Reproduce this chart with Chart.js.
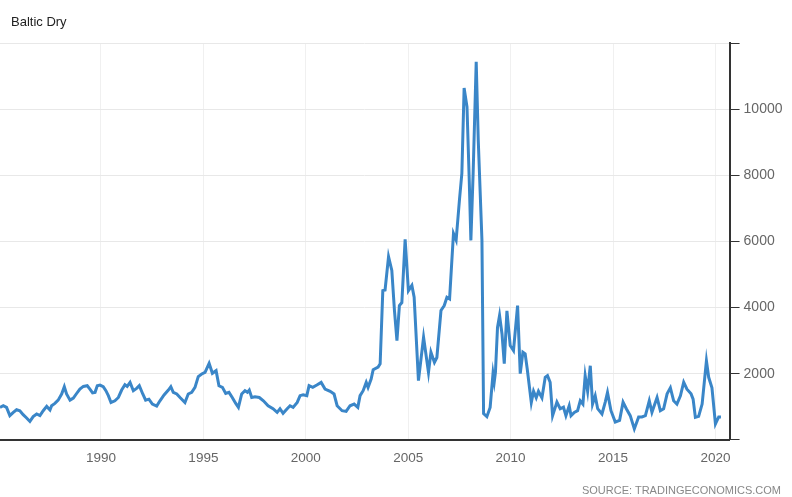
<!DOCTYPE html>
<html>
<head>
<meta charset="utf-8">
<script src="https://cdn.jsdelivr.net/npm/chart.js@4.4.1/dist/chart.umd.min.js"></script>
<style>
  html, body { margin: 0; padding: 0; background: #fff; }
  #wrap { position: relative; width: 792px; height: 497px; }
  #title { position: absolute; left: 11px; top: 15px; font: 13px "Liberation Sans", Arial, sans-serif; color: #222; line-height: 13px; }
  #source { position: absolute; right: 11px; top: 485px; font: 11px "Liberation Sans", Arial, sans-serif; color: #888; line-height: 11px; }
</style>
</head>
<body>
<div id="wrap">
  <canvas id="myChartBaltic" width="792" height="497"></canvas>
  <div id="title">Baltic Dry</div>
  <div id="source">SOURCE: TRADINGECONOMICS.COM</div>
</div>
<script>
// fechas como año decimal, valores del indice
const years = [
  1985.07, 1985.23, 1985.39, 1985.55, 1985.72, 1985.88, 1986.04, 1986.20, 1986.37, 1986.53,
  1986.69, 1986.86, 1987.02, 1987.18, 1987.35, 1987.51, 1987.59, 1987.75, 1987.91, 1988.08,
  1988.21, 1988.32, 1988.49, 1988.65, 1988.81, 1988.97, 1989.14, 1989.33, 1989.46, 1989.59,
  1989.71, 1989.82, 1989.95, 1990.11, 1990.24, 1990.36, 1990.49, 1990.68, 1990.85, 1991.01,
  1991.17, 1991.28, 1991.42, 1991.58, 1991.74, 1991.87, 1992.04, 1992.18, 1992.34, 1992.51,
  1992.72, 1992.88, 1993.08, 1993.29, 1993.41, 1993.53, 1993.70, 1993.86, 1994.10, 1994.26,
  1994.43, 1994.59, 1994.75, 1994.92, 1995.08, 1995.28, 1995.44, 1995.62, 1995.76, 1995.93,
  1996.09, 1996.25, 1996.41, 1996.58, 1996.71, 1996.87, 1997.03, 1997.15, 1997.24, 1997.36,
  1997.52, 1997.73, 1997.93, 1998.16, 1998.40, 1998.60, 1998.74, 1998.89, 1999.09, 1999.23,
  1999.38, 1999.58, 1999.72, 1999.87, 2000.05, 2000.16, 2000.34, 2000.54, 2000.75, 2000.94,
  2001.19, 2001.38, 2001.53, 2001.77, 2001.97, 2002.16, 2002.36, 2002.54, 2002.65, 2002.80,
  2002.95, 2003.04, 2003.19, 2003.29, 2003.53, 2003.63, 2003.76, 2003.87, 2004.04, 2004.20,
  2004.33, 2004.45, 2004.57, 2004.69, 2004.85, 2005.01, 2005.18, 2005.29, 2005.50, 2005.75,
  2005.99, 2006.11, 2006.28, 2006.40, 2006.60, 2006.76, 2006.89, 2007.02, 2007.21, 2007.34,
  2007.50, 2007.62, 2007.73, 2007.87, 2007.98, 2008.06, 2008.17, 2008.32, 2008.42, 2008.60,
  2008.68, 2008.84, 2009.00, 2009.14, 2009.20, 2009.26, 2009.36, 2009.46, 2009.58, 2009.69,
  2009.82, 2009.98, 2010.14, 2010.34, 2010.47, 2010.60, 2010.71, 2010.81, 2011.01, 2011.12,
  2011.25, 2011.36, 2011.53, 2011.69, 2011.80, 2011.93, 2012.05, 2012.18, 2012.26, 2012.42,
  2012.58, 2012.70, 2012.86, 2012.95, 2013.11, 2013.27, 2013.40, 2013.53, 2013.64, 2013.76,
  2013.89, 2014.00, 2014.13, 2014.25, 2014.46, 2014.62, 2014.73, 2014.90, 2015.11, 2015.32,
  2015.49, 2015.65, 2015.84, 2016.04, 2016.25, 2016.41, 2016.58, 2016.77, 2016.90, 2017.15,
  2017.31, 2017.47, 2017.64, 2017.80, 2017.96, 2018.12, 2018.29, 2018.45, 2018.61, 2018.81,
  2018.91, 2019.02, 2019.18, 2019.35, 2019.56, 2019.67, 2019.83, 2020.00, 2020.16, 2020.27
]
const balticDry = [
  980, 1030, 980, 730, 830, 910, 880, 760, 660, 555,
  700, 780, 730, 880, 1010, 900, 1030, 1100, 1200, 1385,
  1605, 1385, 1200, 1260, 1400, 1535, 1615, 1635, 1535, 1420,
  1435, 1635, 1655, 1605, 1485, 1335, 1130, 1180, 1280, 1505,
  1665, 1615, 1735, 1485, 1555, 1635, 1385, 1200, 1230, 1080,
  1020, 1180, 1355, 1505, 1605, 1435, 1385, 1280, 1130, 1385,
  1435, 1585, 1910, 1990, 2040, 2310, 2010, 2090, 1635, 1585,
  1400, 1435, 1280, 1100, 980, 1385, 1485, 1435, 1505, 1280,
  1300, 1280, 1180, 1030, 940, 830, 940, 800, 940, 1030,
  980, 1130, 1335, 1360, 1335, 1635, 1585, 1655, 1735, 1535,
  1465, 1385, 1030, 880, 860, 1030, 1080, 980, 1335, 1485,
  1735, 1585, 1835, 2120, 2200, 2300, 4510, 4530, 5540, 5120,
  3900, 3000, 4060, 4150, 6060, 4510, 4670, 4310, 1790, 3100,
  2040, 2650, 2340, 2490, 3910, 4060, 4310, 4260, 6240, 6040,
  7240, 8060, 10640, 10070, 7850, 6030, 8060, 11430, 9060, 6030,
  790, 700, 980, 2000, 1750, 2050, 3400, 3760, 3200, 2300,
  3900, 2850, 2700, 4060, 2000, 2650, 2600, 2150, 1130, 1470,
  1270, 1470, 1270, 1890, 1940, 1740, 730, 980, 1140, 940,
  990, 730, 1030, 730, 830, 880, 1180, 1080, 1940, 1470,
  2240, 1080, 1330, 940, 780, 1140, 1430, 880, 540, 590,
  1140, 940, 730, 330, 690, 690, 730, 1180, 830, 1280,
  880, 940, 1390, 1570, 1180, 1080, 1330, 1740, 1530, 1390,
  1230, 680, 710, 1080, 2390, 1890, 1570, 480, 690, 690
]
const xTicks = [1990, 1995, 2000, 2005, 2010, 2015, 2020]
const yTicks = [0, 2000, 4000, 6000, 8000, 10000, 12000]

const fuenteX = { family: "'Liberation Sans', Arial, sans-serif", size: 13.5 }
const fuenteY = { family: "'Liberation Sans', Arial, sans-serif", size: 14 }

var ctx = document.getElementById('myChartBaltic')
var myChart = new Chart(ctx, {
    type: 'line',
    data: {
        datasets: [{
            label: 'Baltic Dry',
            data: years.map((x, i) => ({ x: x, y: balticDry[i] })),
            borderColor: '#3a86c8',
            borderWidth: 3,
            pointRadius: 0,
            fill: false,
            tension: 0
        }]
    },
    options: {
        responsive: false,
        animation: false,
        devicePixelRatio: 1,
        layout: { padding: { top: 43, right: 5.5, bottom: 21, left: 0 } },
        plugins: {
            legend: { display: false },
            tooltip: { enabled: false }
        },
        scales: {
            x: {
                type: 'linear',
                min: 1985.07,
                max: 2020.69,
                afterBuildTicks: scale => { scale.ticks = xTicks.map(v => ({ value: v })) },
                ticks: {
                    color: '#666',
                    font: fuenteX,
                    padding: 10,
                    maxRotation: 0,
                    autoSkip: false,
                    callback: v => String(v)
                },
                grid: { color: '#f0f0f0', drawTicks: false },
                border: { color: '#333', width: 2 }
            },
            y: {
                position: 'right',
                min: 0,
                max: 12000,
                afterBuildTicks: scale => { scale.ticks = yTicks.map(v => ({ value: v })) },
                ticks: {
                    color: '#666',
                    font: fuenteY,
                    padding: 4,
                    callback: v => (v === 0 || v === 12000) ? '' : String(v)
                },
                grid: { color: '#e8e8e8', tickColor: '#333', tickLength: 10 },
                border: { color: '#333', width: 2 }
            }
        }
    }
})
</script>
</body>
</html>
